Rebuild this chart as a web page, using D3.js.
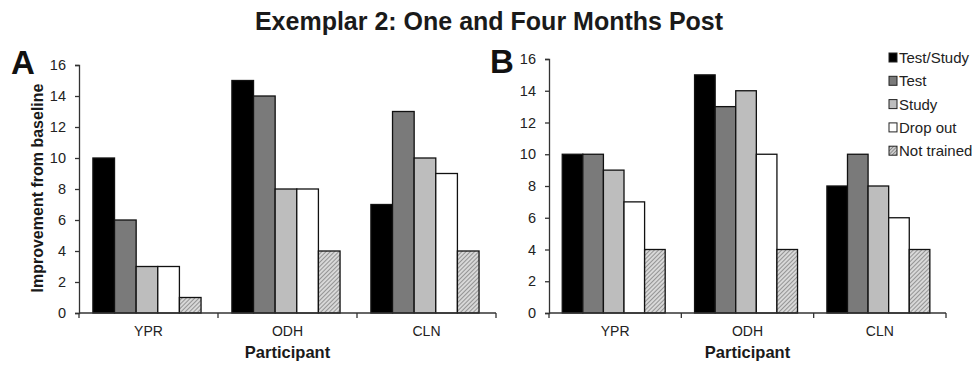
<!DOCTYPE html>
<html><head><meta charset="utf-8">
<script src="https://cdn.jsdelivr.net/npm/d3@7"></script>
<style>body{margin:0;background:#fff}svg{display:block}text{font-family:"Liberation Sans",Arial,sans-serif}</style>
</head><body><svg id="c" width="977" height="368"></svg>
<script>
const categories = ["YPR","ODH","CLN"];
const series = ["Test/Study","Test","Study","Drop out","Not trained"];
const valuesA = [[10,6,3,3,1],[15,14,8,8,4],[7,13,10,9,4]];
const valuesB = [[10,10,9,7,4],[15,13,14,10,4],[8,10,8,6,4]];
const yTicks = [0,2,4,6,8,10,12,14,16];
const fills = ["#000","#7a7a7a","#bdbdbd","#fff","url(#hatch)"];

const svg = d3.select("#c");
const defs = svg.append("defs");
const pat = defs.append("pattern").attr("id","hatch").attr("patternUnits","userSpaceOnUse")
  .attr("width",3).attr("height",3).attr("patternTransform","rotate(-45)");
pat.append("rect").attr("width",3).attr("height",3).attr("fill","#d8d8d8");
pat.append("line").attr("x1",0).attr("y1",0).attr("x2",3).attr("y2",0).attr("stroke","#666").attr("stroke-width",1.2);
const lpat = defs.append("pattern").attr("id","hatchL").attr("patternUnits","userSpaceOnUse")
  .attr("width",2.5).attr("height",2.5).attr("patternTransform","rotate(-45)");
lpat.append("rect").attr("width",2.5).attr("height",2.5).attr("fill","#ccc");
lpat.append("line").attr("x1",0).attr("y1",0).attr("x2",2.5).attr("y2",0).attr("stroke","#555").attr("stroke-width",1);

svg.append("text").attr("x",489).attr("y",30).attr("text-anchor","middle")
  .attr("font-size",25).attr("font-weight","bold").attr("fill","#1a1a1a")
  .text("Exemplar 2: One and Four Months Post");

function panel(vals, left, right, top, bottom, letter, lx, ly, showY){
  const x0 = d3.scaleBand().domain(categories).range([left,right]);
  const bw = x0.bandwidth();
  const x1 = d3.scaleBand().domain(series).range([bw*0.1, bw*0.878]);
  const y = d3.scaleLinear().domain([0,16]).range([bottom,top]);
  const g = svg.append("g");
  categories.forEach((c,i)=>{
    g.selectAll(null).data(vals[i]).enter().append("rect")
      .attr("x",(d,j)=>x0(c)+x1(series[j]))
      .attr("y",d=>y(d)).attr("width",x1.bandwidth()).attr("height",d=>y(0)-y(d))
      .attr("fill",(d,j)=>fills[j]).attr("stroke","#111").attr("stroke-width",1.3);
  });
  const ya = d3.axisLeft(y).tickValues(yTicks).tickSize(4).tickPadding(9);
  const yg = g.append("g").attr("transform",`translate(${left},0)`).call(ya);
  yg.select(".domain").attr("stroke","#333").attr("stroke-width",1.3);
  yg.selectAll(".tick line").attr("stroke","#333").attr("stroke-width",1.3);
  yg.selectAll("text").attr("font-size",14.5).attr("fill","#222").attr("font-family","Liberation Sans, Arial, sans-serif");
  g.append("line").attr("x1",left).attr("x2",right).attr("y1",y(0)).attr("y2",y(0)).attr("stroke","#333").attr("stroke-width",1.3);
  const bounds = categories.map(c=>x0(c)).concat([right]);
  g.selectAll(null).data(bounds).enter().append("line")
    .attr("x1",d=>d).attr("x2",d=>d).attr("y1",y(0)).attr("y2",y(0)+5).attr("stroke","#333").attr("stroke-width",1.3);
  g.selectAll(null).data(categories).enter().append("text")
    .attr("x",c=>x0(c)+bw/2).attr("y",y(0)+23).attr("text-anchor","middle")
    .attr("font-size",14).attr("fill","#222").text(c=>c);
  g.append("text").attr("x",(left+right)/2).attr("y",y(0)+45).attr("text-anchor","middle")
    .attr("font-size",16.5).attr("font-weight","bold").attr("fill","#1a1a1a").text("Participant");
  g.append("text").attr("x",lx).attr("y",ly).attr("font-size",33).attr("font-weight","bold").attr("fill","#111").text(letter);
  if(showY){
    g.append("text").attr("transform",`translate(43,188) rotate(-90)`).attr("text-anchor","middle")
      .attr("font-size",16).attr("font-weight","bold").attr("fill","#1a1a1a").text("Improvement from baseline");
  }
}
panel(valuesA, 79, 496, 65, 313, "A", 11, 74, true);
panel(valuesB, 549, 946, 59, 313, "B", 490, 73, false);

const lg = svg.append("g");
const lf = ["#000","#7a7a7a","#bdbdbd","#fff","url(#hatchL)"];
series.forEach((s,i)=>{
  const yy = 58 + i*23.3;
  lg.append("rect").attr("x",889).attr("y",yy-5).attr("width",8).attr("height",9)
    .attr("fill",lf[i]).attr("stroke","#222").attr("stroke-width",1);
  lg.append("text").attr("x",899).attr("y",yy+5).attr("font-size",15).attr("fill","#222").text(s);
});
</script></body></html>
